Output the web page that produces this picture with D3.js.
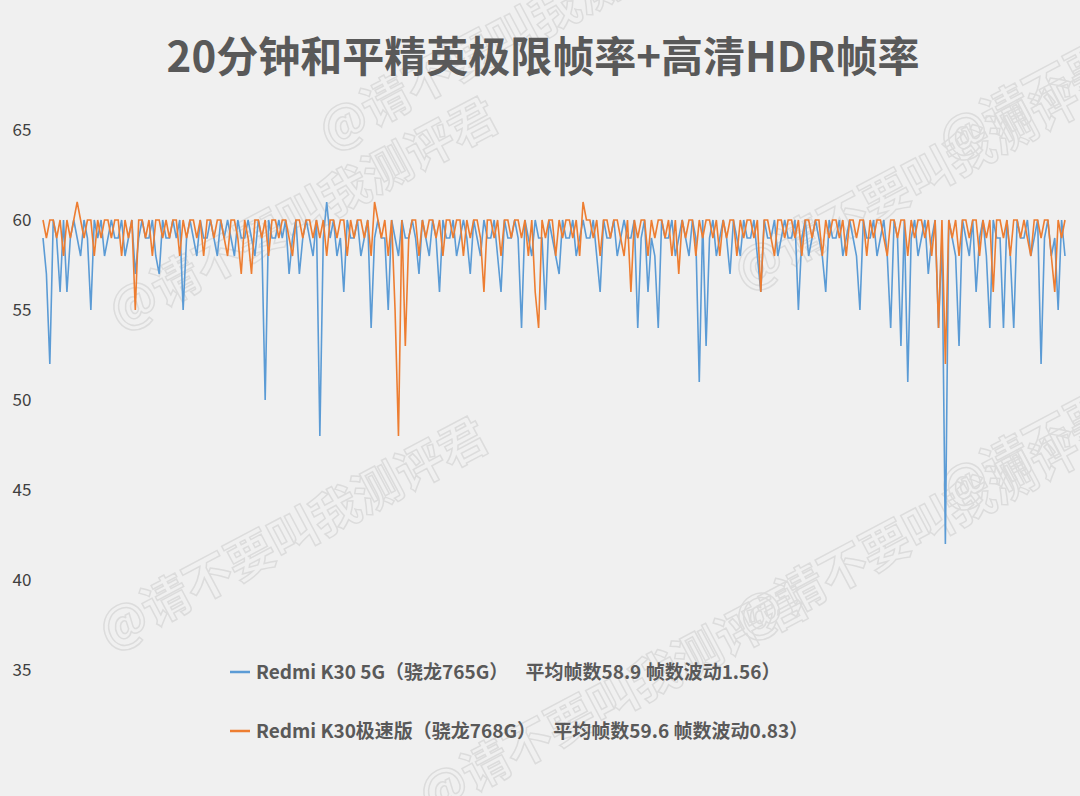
<html>
<head>
<script src="https://cdnjs.cloudflare.com/ajax/libs/d3/7.8.5/d3.min.js"></script>
<style>
body{margin:0;background:#f0f0f0;}
text{font-family:"Noto Sans CJK SC","Noto Sans",sans-serif;}
</style>
</head>
<body>
<svg width="1080" height="796"></svg>
<script>
var title = "20分钟和平精英极限帧率+高清HDR帧率";
var yTicks = [35, 40, 45, 50, 55, 60, 65];
var legendLabels = [
	"Redmi K30 5G（骁龙765G）    平均帧数58.9 帧数波动1.56）",
	"Redmi K30极速版（骁龙768G）    平均帧数59.6 帧数波动0.83）"
];
var k30 = [
59,57,52,60,59,56,60,56,59,60,59,58,60,59,55,60,59,60,58,59,
60,59,59,60,58,59,60,57,59,60,59,59,60,58,57,60,59,59,60,59,
60,55,59,60,59,58,60,59,59,60,59,58,60,59,60,59,58,60,59,59,
60,59,58,60,59,50,60,59,59,60,59,60,57,59,60,57,59,60,59,58,
60,48,59,61,59,60,58,59,56,60,59,59,60,58,59,60,54,59,60,59,
59,55,60,59,58,60,59,59,60,59,57,60,59,58,60,59,56,60,59,59,
60,58,59,60,59,57,60,59,58,60,59,59,60,58,56,60,59,59,60,59,
54,60,59,58,60,59,59,55,60,59,58,57,60,59,59,60,58,59,60,59,
59,60,58,56,60,59,59,60,58,59,60,59,59,60,54,59,60,56,59,58,
54,60,59,59,60,58,59,60,59,58,60,59,51,60,53,59,60,58,59,60,
59,57,60,59,58,60,59,59,60,58,56,60,59,59,60,58,59,60,59,59,
60,55,59,60,58,59,60,59,58,56,60,59,59,60,58,59,60,59,58,55,
60,59,59,60,58,59,60,58,54,60,59,53,60,51,59,60,58,59,60,57,
59,60,54,59,42,60,59,58,53,60,59,58,60,56,59,60,58,54,60,59,
59,54,60,58,54,60,59,59,60,58,59,60,52,59,60,58,59,55,60,58];
var k30speed = [
60,59,60,60,59,60,58,60,59,60,61,60,59,60,60,58,60,59,60,60,
59,60,60,58,60,59,60,55,60,60,59,60,58,60,60,59,60,59,60,60,
58,60,59,60,60,59,60,58,60,60,59,60,60,59,58,60,60,59,57,60,
59,57,60,60,59,60,58,60,60,59,60,60,59,58,60,60,59,60,60,59,
60,59,60,58,60,60,59,60,60,58,60,59,60,60,59,60,58,61,60,59,
60,58,60,55,48,60,53,59,60,60,58,60,59,60,60,59,60,58,60,60,
59,60,60,58,60,59,60,60,59,56,60,60,59,60,58,60,60,59,60,60,
59,60,58,60,56,54,60,59,60,60,58,60,59,60,60,59,60,58,61,60,
60,59,60,58,60,60,59,60,60,59,58,60,56,60,59,60,60,58,60,59,
60,60,59,60,58,60,57,60,59,60,60,58,60,59,60,60,59,60,58,60,
59,60,60,58,60,59,60,60,59,60,56,60,60,59,58,60,60,59,60,60,
59,60,58,60,60,59,60,60,58,60,59,60,60,59,60,58,60,60,59,60,
60,58,60,59,60,60,59,58,60,60,59,60,60,58,60,59,60,60,59,60,
58,60,54,60,52,60,59,60,58,60,60,59,60,60,58,60,59,60,56,60,
60,59,60,58,60,60,59,60,59,58,60,60,59,60,60,58,56,60,59,60];
var colors = ["#5b9bd5", "#ed7d31"];

var svg = d3.select("svg");
svg.append("rect").attr("width",1080).attr("height",796).attr("fill","#f0f0f0");

// watermarks
var wm = [[110,650],[745,640],[120,330],[745,290],[330,150],[950,160],[950,510],[430,815]];
wm.forEach(function(p){
	svg.append("text").attr("transform","translate("+p[0]+","+p[1]+") rotate(-28)")
		.attr("font-size",48).attr("font-weight","bold").attr("fill","none")
		.attr("stroke","#dcdcdc").attr("stroke-width",1.5)
		.text("@请不要叫我测评君");
});

svg.append("text").attr("x",543).attr("y",72).attr("text-anchor","middle")
	.attr("font-size",42).attr("font-weight","bold").attr("fill","#595959").text(title);

var x = d3.scaleLinear().domain([0, k30.length-1]).range([43, 1065]);
var y = d3.scaleLinear().domain([35, 65]).range([670, 130]);

svg.selectAll(".ytick").data(yTicks).enter().append("text")
	.attr("x",22).attr("y",function(d){return y(d)+6;}).attr("text-anchor","middle")
	.attr("font-size",17).attr("fill","#404040").text(function(d){return d;});

var line = d3.line().x(function(d,i){return x(i);}).y(function(d){return y(d);});
[k30, k30speed].forEach(function(s,i){
	svg.append("path").datum(s).attr("d",line).attr("fill","none")
		.attr("stroke",colors[i]).attr("stroke-width",1.6);
});

legendLabels.forEach(function(l,i){
	var ly = 672 + i*59;
	svg.append("line").attr("x1",230).attr("x2",250).attr("y1",ly).attr("y2",ly)
		.attr("stroke",colors[i]).attr("stroke-width",2.5);
	svg.append("text").attr("x",256).attr("y",ly+7).attr("font-size",19)
		.attr("font-weight","bold").attr("fill","#595959").attr("xml:space","preserve").text(l);
});
</script>
</body>
</html>
